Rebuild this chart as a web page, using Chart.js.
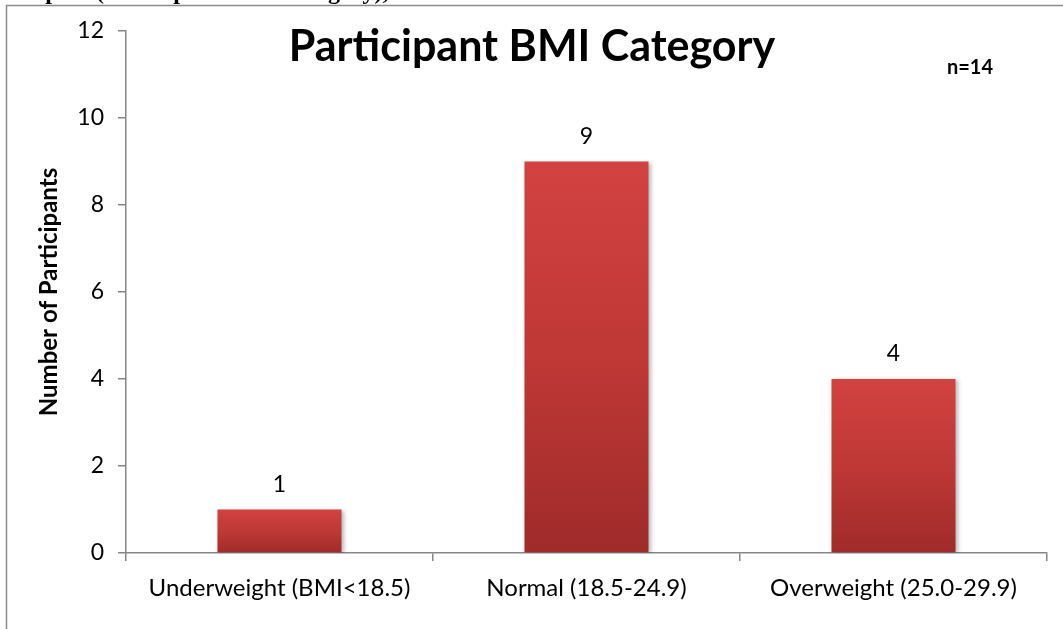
<!DOCTYPE html>
<html>
<head>
<meta charset="utf-8">
<script src="https://cdn.jsdelivr.net/npm/chart.js@4.4.1/dist/chart.umd.min.js"></script>
<style>
  html, body { margin: 0; padding: 0; background: #ffffff; }
  #wrap { width: 1063px; height: 629px; position: relative; }
</style>
</head>
<body>
<div id="wrap"><canvas id="bmi" width="1063" height="629"></canvas></div>
<script>
// BMI categories and participant counts
const categories = ['Underweight (BMI<18.5)', 'Normal (18.5-24.9)', 'Overweight (25.0-29.9)'];
const participants = [1, 9, 4];
const yTicks = [0, 2, 4, 6, 8, 10, 12];
const chartTitle = 'Participant BMI Category';
const sampleNote = 'n=14';
const captionLine = 'Graph 3 (Participant BMI Category),';

const FONT = 'Lato, "Open Sans", sans-serif';
const AXIS_GRAY = '#868686';

// Per-bar vertical gradient, lighter red at the top, darker at the base
function barFill(ctx) {
  const chart = ctx.chart;
  const y = chart.scales && chart.scales.y;
  if (!y || ctx.raw === undefined) return '#c43a3a';
  const top = y.getPixelForValue(ctx.raw);
  const base = y.getPixelForValue(0);
  if (!isFinite(top) || !isFinite(base) || top === base) return '#c43a3a';
  const g = chart.ctx.createLinearGradient(0, top, 0, base);
  g.addColorStop(0, '#d24241');
  g.addColorStop(0.5, '#bf3836');
  g.addColorStop(1, '#9f2b2a');
  return g;
}

// Frame, caption line, title, note and value labels
const decorations = {
  id: 'decorations',
  beforeDatasetsDraw(chart) {
    const c = chart.ctx;
    c.save();
    c.shadowColor = 'rgba(0,0,0,0.28)';
    c.shadowBlur = 4;
    c.shadowOffsetX = 2;
    c.shadowOffsetY = 1;
  },
  afterDatasetsDraw(chart) {
    chart.ctx.restore();
  },
  afterDraw(chart) {
    const c = chart.ctx;
    c.save();
    // caption text running above the frame
    c.fillStyle = '#000';
    c.font = 'bold 24px "Liberation Serif", "DejaVu Serif", serif';
    c.textAlign = 'left';
    c.textBaseline = 'alphabetic';
    c.fillText(captionLine, 4, -1);
    // frame
    c.strokeStyle = '#8a8a8a';
    c.lineWidth = 1.5;
    c.beginPath();
    c.moveTo(6.5, 629);
    c.lineTo(6.5, 5.5);
    c.lineTo(1063, 5.5);
    c.stroke();
    // title
    c.font = 'bold 43px ' + FONT;
    c.textAlign = 'center';
    c.textBaseline = 'middle';
    c.fillText(chartTitle, 532, 47);
    // sample size
    c.font = 'bold 20px ' + FONT;
    c.fillText(sampleNote, 970, 68);
    // value labels
    c.font = '23px ' + FONT;
    const meta = chart.getDatasetMeta(0);
    meta.data.forEach((bar, i) => {
      c.fillText(String(participants[i]), bar.x, bar.y - 25);
    });
    c.restore();
  }
};

new Chart(document.getElementById('bmi'), {
  type: 'bar',
  data: {
    labels: categories,
    datasets: [{
      data: participants,
      backgroundColor: barFill,
      borderWidth: 0,
      barPercentage: 0.404,
      categoryPercentage: 1.0
    }]
  },
  options: {
    responsive: false,
    animation: false,
    devicePixelRatio: 1,
    layout: { padding: { left: 8, top: 31, right: 16, bottom: 0 } },
    plugins: {
      legend: { display: false },
      tooltip: { enabled: false },
      title: { display: false }
    },
    scales: {
      x: {
        offset: true,
        grid: {
          offset: true,
          drawOnChartArea: false,
          drawTicks: true,
          tickLength: 8,
          color: AXIS_GRAY,
          lineWidth: 1.5
        },
        border: { color: AXIS_GRAY, width: 1.5 },
        ticks: {
          color: '#000',
          font: { family: FONT, size: 24 },
          padding: 13,
          maxRotation: 0,
          autoSkip: false
        },
        afterFit(scale) { scale.height = 76; }
      },
      y: {
        min: 0,
        max: 12,
        afterBuildTicks(scale) { scale.ticks = yTicks.map(v => ({ value: v })); },
        grid: {
          drawOnChartArea: false,
          drawTicks: true,
          tickLength: 8,
          color: AXIS_GRAY,
          lineWidth: 1.5
        },
        border: { color: AXIS_GRAY, width: 1.5 },
        ticks: {
          color: '#000',
          font: { family: FONT, size: 23 },
          padding: 14
        },
        title: {
          display: true,
          text: 'Number of Participants',
          color: '#000',
          font: { family: FONT, size: 24, weight: 'bold' },
          padding: { top: 27, bottom: 0 }
        },
        afterFit(scale) { scale.width = 118; }
      }
    }
  },
  plugins: [decorations]
});
</script>
</body>
</html>
